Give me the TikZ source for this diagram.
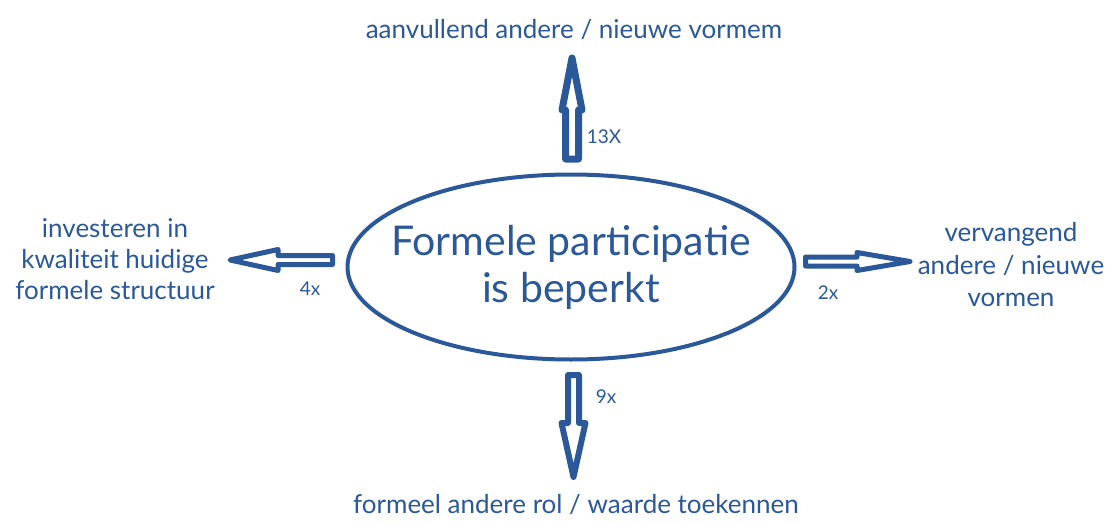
\documentclass[tikz,border=0pt]{standalone}
\usepackage{fontspec}
\setmainfont{Lato}
\usetikzlibrary{shapes.geometric}
\definecolor{inkblue}{RGB}{42,88,152}
\tikzset{
  lbl/.style={text=inkblue, inner sep=0pt, font=\fontsize{26}{31}\selectfont, align=center},
  cnt/.style={text=inkblue, inner sep=0pt, font=\fontsize{19}{22}\selectfont},
  barrow/.style={draw=inkblue, fill=white, line join=round},
  core/.style={ellipse, draw=inkblue, line width=4pt, inner sep=0pt,
    minimum width=447pt, minimum height=185pt},
  coretext/.style={text=inkblue, inner sep=0pt, align=center,
    font=\fontsize{41}{47}\selectfont}
}
\begin{document}
\begin{tikzpicture}[x=1pt,y=-1pt]
\useasboundingbox (0,0) rectangle (1116,522);
\node[core] (c) at (571,267) {};
\node[coretext] (ct) at (c.center) {Formele participatie\\is beperkt};
\node[lbl] (top) at (574,30) {aanvullend andere / nieuwe vormem};
\node[lbl] (left) at (115,259) {investeren in\\kwaliteit huidige\\formele structuur};
\node[lbl, font=\fontsize{26}{32.5}\selectfont] (right) at (1011,265) {vervangend\\andere / nieuwe\\vormen};
\node[lbl] (bottom) at (576,505) {formeel andere rol / waarde toekennen};
\node[cnt] (n13) at (604,137) {13X};
\node[cnt] (n4) at (310,289) {4x};
\node[cnt] (n2) at (828,293) {2x};
\node[cnt] (n9) at (606,397) {9x};
% up arrow
\draw[barrow, line width=7pt] (565.5,159) -- (565.5,110) -- (562,110) -- (572,58) -- (582,110) -- (578.5,110) -- (578.5,159) -- cycle;
% left arrow
\draw[barrow, line width=5pt] (332.5,255.5) -- (278,255.5) -- (278,249.5) -- (230,260) -- (278,270.5) -- (278,264.5) -- (332.5,264.5) -- cycle;
% right arrow
\draw[barrow, line width=5pt] (805.5,257) -- (857,257) -- (857,252.5) -- (910,261.5) -- (857,270.5) -- (857,266) -- (805.5,266) -- cycle;
% down arrow
\draw[barrow, line width=6pt] (568,375) -- (568,423) -- (561.5,423) -- (573.5,477) -- (585.5,423) -- (579,423) -- (579,375) -- cycle;
\end{tikzpicture}
\end{document}
